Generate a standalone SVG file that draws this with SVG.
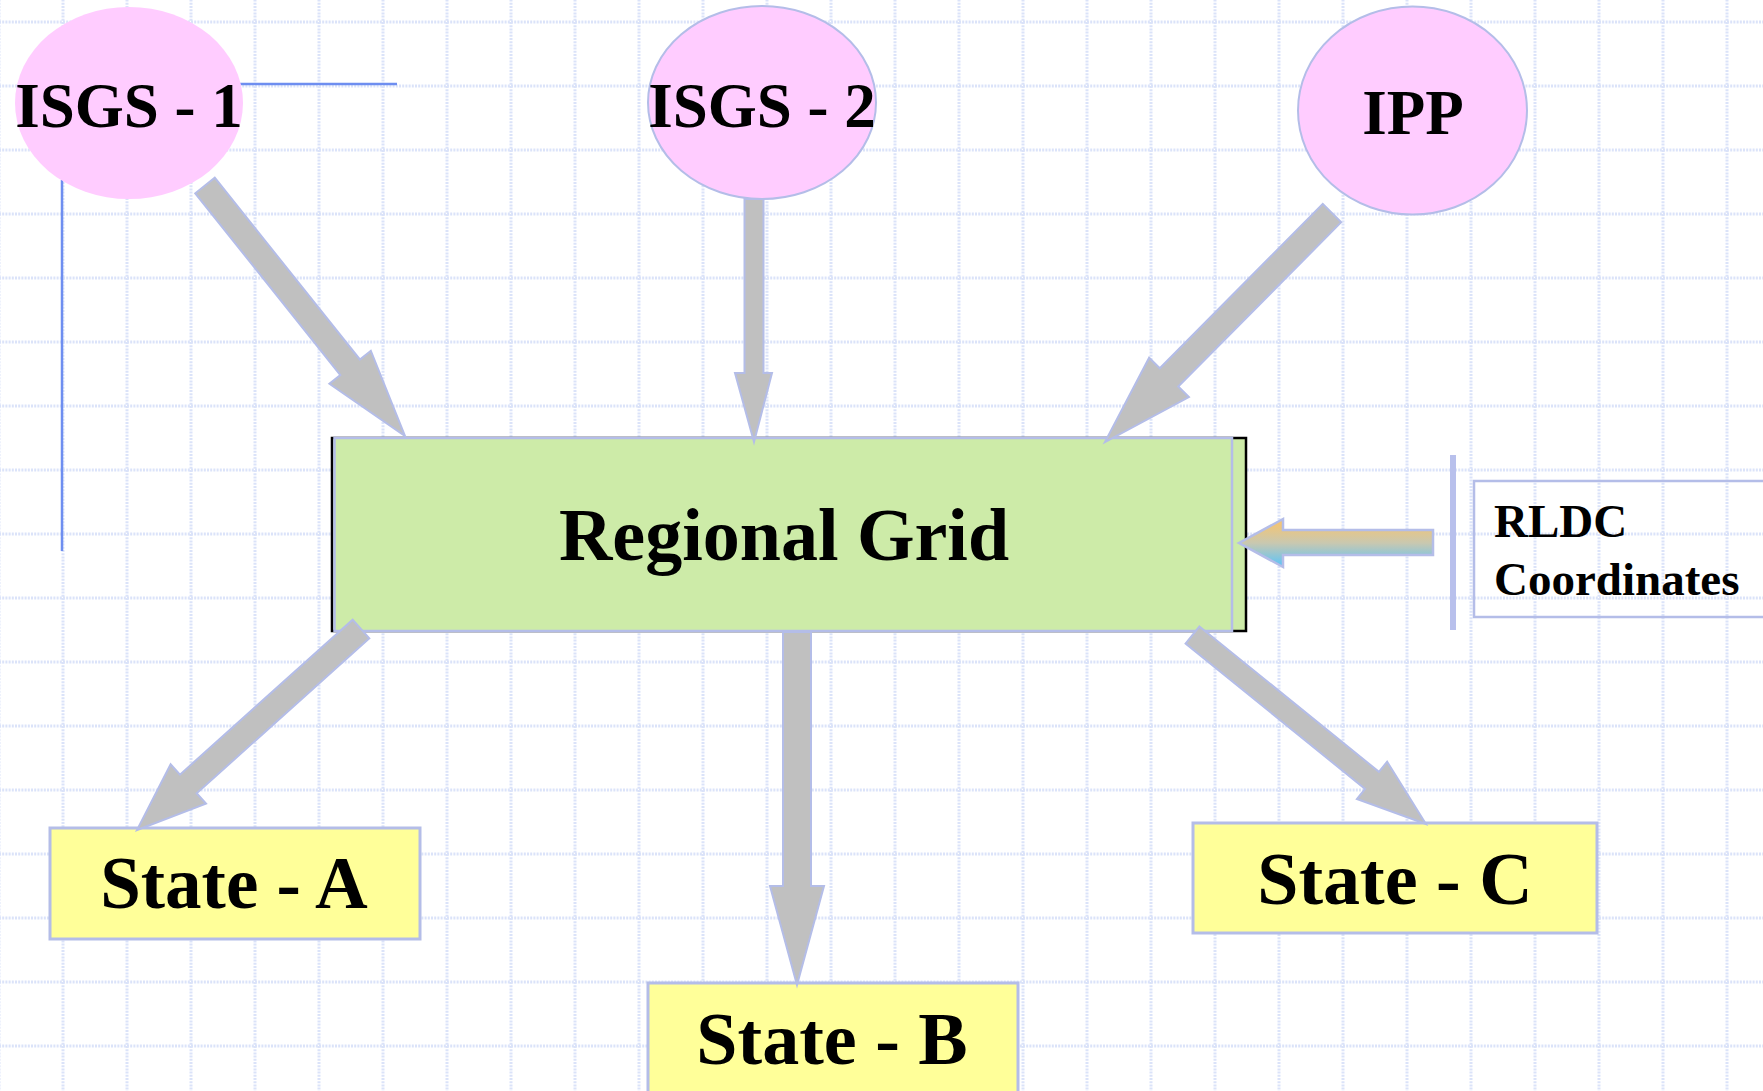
<svg xmlns="http://www.w3.org/2000/svg" width="1763" height="1091" viewBox="0 0 1763 1091">
<defs>
<pattern id="grid" patternUnits="userSpaceOnUse" x="-33" y="-10" width="64" height="64">
<path d="M32 0 V64 M0 32 H64" stroke="#dbe3f9" stroke-width="3" stroke-dasharray="2 1.2" fill="none"/>
</pattern>
<linearGradient id="rl" x1="0" y1="0" x2="0" y2="1">
<stop offset="0" stop-color="#fcc468"/>
<stop offset="0.5" stop-color="#c9c8b0"/>
<stop offset="1" stop-color="#58c4fb"/>
</linearGradient>
<style>
.lbl{font-family:"Liberation Serif","Times New Roman",serif;font-weight:bold;fill:#000}
.oval{fill:#ffccff;stroke:#b4bde8;stroke-width:2}
.state{fill:#ffff99;stroke:#b4bde8;stroke-width:3}
.arr{fill:#c0c0c0;stroke:#b4bde8;stroke-width:2;stroke-linejoin:miter}
.guide{stroke:#6e8ef0;stroke-width:2.5;fill:none}
</style>
</defs>
<rect width="1763" height="1091" fill="#ffffff"/>
<rect width="1763" height="1091" fill="url(#grid)"/>

<g id="guides">
<line class="guide" x1="240" y1="84" x2="397" y2="84"/>
<line class="guide" x1="62" y1="180" x2="62" y2="551"/>
</g>

<g id="isgs1">
<ellipse cx="129" cy="103" rx="114" ry="96" fill="#ffccff"/>
<text class="lbl" x="129" y="127" font-size="63" text-anchor="middle">ISGS - 1</text>
</g>
<g id="isgs2">
<ellipse class="oval" cx="762" cy="102.5" rx="114" ry="96.5"/>
<text class="lbl" x="762" y="127" font-size="63" text-anchor="middle">ISGS - 2</text>
</g>
<g id="ipp">
<ellipse class="oval" cx="1412.5" cy="110.5" rx="114.5" ry="104"/>
<text class="lbl" x="1413" y="134" font-size="63" text-anchor="middle">IPP</text>
</g>

<g id="regional-grid">
<rect x="332" y="438" width="914" height="193" fill="#cdeba8" stroke="#000" stroke-width="2.5"/>
<rect x="334.5" y="438" width="897.5" height="193" fill="#cdeba8" stroke="#b4bde8" stroke-width="2.5"/>
<text class="lbl" x="784" y="560" font-size="74" text-anchor="middle">Regional Grid</text>
</g>

<g id="rldc">
<rect x="1450" y="455" width="6" height="175" fill="#b8c0ec"/>
<rect x="1474" y="481" width="300" height="136" fill="none" stroke="#b4bde8" stroke-width="2.5"/>
<text class="lbl" x="1494" y="537" font-size="47">RLDC</text>
<text class="lbl" x="1494" y="595" font-size="47">Coordinates</text>
</g>

<g id="state-a">
<rect class="state" x="50" y="828" width="370" height="111"/>
<text class="lbl" x="234" y="908" font-size="73" text-anchor="middle">State - A</text>
</g>
<g id="state-b">
<rect class="state" x="648" y="983" width="370" height="125"/>
<text class="lbl" x="832" y="1064" font-size="74" text-anchor="middle">State - B</text>
</g>
<g id="state-c">
<rect class="state" x="1193" y="823" width="404" height="110"/>
<text class="lbl" x="1395" y="904" font-size="74" text-anchor="middle">State - C</text>
</g>

<g id="connectors">
<polygon class="arr" transform="translate(205,185.5) rotate(51.4)" points="0,-12.5 232.6,-12.5 232.6,-26.5 320.6,0 232.6,26.5 232.6,12.5 0,12.5"/>
<polygon class="arr" points="744.5,199 763.5,199 763.5,373 772,373 754,442 735,373 744.5,373"/>
<polygon class="arr" transform="translate(1332,213) rotate(134.75)" points="0,-13 231.5,-13 231.5,-28 322.5,0 231.5,28 231.5,13 0,13"/>
<polygon class="arr" transform="translate(361,629) rotate(138.1)" points="0,-12.5 232,-12.5 232,-26.5 301,0 232,26.5 232,12.5 0,12.5"/>
<polygon class="arr" points="783,632 811,632 811,886 824,886 797,985 770,886 783,886"/>
<polygon class="arr" transform="translate(1192.5,635) rotate(39)" points="0,-11 231,-11 231,-24 300.4,0 231,24 231,11 0,11"/>
<polygon points="1433,530 1283,530 1283,519 1239,543 1283,567 1283,555 1433,555" fill="url(#rl)" stroke="#b4bde8" stroke-width="2.5"/>
</g>
</svg>
